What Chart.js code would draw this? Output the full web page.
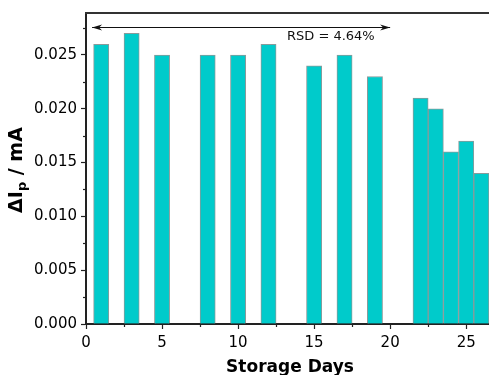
<!DOCTYPE html>
<html>
<head>
<meta charset="utf-8">
<script src="https://cdn.jsdelivr.net/npm/chart.js@4/dist/chart.umd.min.js"></script>
<style>
html,body{margin:0;padding:0;background:#fff;}
#wrap{width:489px;height:375px;position:relative;}
</style>
</head>
<body>
<div id="wrap"><canvas id="c" width="489" height="375"></canvas></div>
<script>
// ---- data ----
const storageDays = [1, 3, 5, 8, 10, 12, 15, 17, 19, 22, 23, 24, 25, 26];
const deltaIp = [0.026, 0.027, 0.025, 0.025, 0.025, 0.026, 0.024, 0.025, 0.023, 0.021, 0.020, 0.016, 0.017, 0.014];
const xTicks = [0, 5, 10, 15, 20, 25];
const yTicks = [0.000, 0.005, 0.010, 0.015, 0.020, 0.025];
const xTitle = 'Storage Days';
const yTitleParts = ['\u0394I', 'p', ' / mA'];
const rsdLabel = 'RSD = 4.64%';
const arrowFrom = 0.4;
const arrowTo = 20;
const arrowLevel = 0.0276;
const labelX = 16.1;
const labelY = 0.0267;

const FONT = '"DejaVu Sans", sans-serif';
const INK = '#222';

function minorTicks(ticks) {
  const out = [];
  for (let i = 0; i < ticks.length - 1; i++) out.push((ticks[i] + ticks[i + 1]) / 2);
  out.push(ticks[ticks.length - 1] + (ticks[1] - ticks[0]) / 2);
  return out;
}

const decor = {
  id: 'decor',
  beforeDraw(chart) {
    const ctx = chart.ctx;
    ctx.save();
    ctx.fillStyle = '#fff';
    ctx.fillRect(0, 0, chart.width, chart.height);
    ctx.restore();
  },
  afterDraw(chart) {
    const ctx = chart.ctx;
    const xs = chart.scales.x, ys = chart.scales.y;
    const a = chart.chartArea;
    ctx.save();
    // top frame line
    ctx.strokeStyle = '#333';
    ctx.lineWidth = 2;
    ctx.beginPath();
    ctx.moveTo(a.left - 1, a.top);
    ctx.lineTo(a.right, a.top);
    ctx.stroke();
    // minor ticks
    ctx.lineWidth = 1.2;
    ctx.strokeStyle = INK;
    minorTicks(xTicks).forEach(v => {
      const px = Math.round(xs.getPixelForValue(v)) + 0.5;
      if (px > a.right) return;
      ctx.beginPath(); ctx.moveTo(px, a.bottom); ctx.lineTo(px, a.bottom + 3); ctx.stroke();
    });
    minorTicks(yTicks).forEach(v => {
      const py = Math.round(ys.getPixelForValue(v)) + 0.5;
      if (py < a.top) return;
      ctx.beginPath(); ctx.moveTo(a.left, py); ctx.lineTo(a.left - 3, py); ctx.stroke();
    });
    // arrow
    const x1 = xs.getPixelForValue(arrowFrom), x2 = xs.getPixelForValue(arrowTo);
    const ay = Math.round(ys.getPixelForValue(arrowLevel)) + 0.5;
    ctx.strokeStyle = '#111';
    ctx.fillStyle = '#111';
    ctx.lineWidth = 1;
    ctx.beginPath(); ctx.moveTo(x1, ay); ctx.lineTo(x2, ay); ctx.stroke();
    function head(tip, dir) {
      ctx.beginPath();
      ctx.moveTo(tip, ay);
      ctx.lineTo(tip - dir * 10, ay - 3);
      ctx.lineTo(tip - dir * 7, ay);
      ctx.lineTo(tip - dir * 10, ay + 3);
      ctx.closePath();
      ctx.fill();
    }
    head(x1, -1);
    head(x2, 1);
    // RSD label
    ctx.font = '13px ' + FONT;
    ctx.fillStyle = '#111';
    ctx.textAlign = 'center';
    ctx.textBaseline = 'middle';
    ctx.fillText(rsdLabel, xs.getPixelForValue(labelX), ys.getPixelForValue(labelY));
    // x title
    ctx.font = 'bold 17px ' + FONT;
    ctx.fillStyle = '#000';
    ctx.textAlign = 'center';
    ctx.textBaseline = 'alphabetic';
    ctx.fillText(xTitle, 290, 372);
    // y title with subscript
    ctx.translate(22, 170);
    ctx.rotate(-Math.PI / 2);
    const big = 'bold 19px ' + FONT, small = 'bold 13px ' + FONT;
    ctx.font = big; const w0 = ctx.measureText(yTitleParts[0]).width;
    ctx.font = small; const w1 = ctx.measureText(yTitleParts[1]).width;
    ctx.font = big; const w2 = ctx.measureText(yTitleParts[2]).width;
    let sx = -(w0 + w1 + w2) / 2;
    ctx.textAlign = 'left';
    ctx.font = big; ctx.fillText(yTitleParts[0], sx, 0); sx += w0;
    ctx.font = small; ctx.fillText(yTitleParts[1], sx, 4); sx += w1;
    ctx.font = big; ctx.fillText(yTitleParts[2], sx, 0);
    ctx.restore();
  }
};

new Chart(document.getElementById('c'), {
  type: 'bar',
  data: {
    datasets: [{
      data: storageDays.map((d, i) => ({ x: d, y: deltaIp[i] })),
      backgroundColor: '#00CBCB',
      borderColor: '#8a9a9a',
      borderWidth: 1,
      barPercentage: 1,
      categoryPercentage: 1
    }]
  },
  options: {
    responsive: false,
    animation: false,
    devicePixelRatio: 1,
    layout: { padding: { top: 11, right: 0, left: 0, bottom: 0 } },
    plugins: { legend: { display: false }, tooltip: { enabled: false } },
    scales: {
      x: {
        type: 'linear',
        min: 0, max: 26.5,
        offset: false,
        afterFit(s) { s.height = 51; },
        afterBuildTicks(s) { s.ticks = xTicks.map(v => ({ value: v })); },
        grid: { offset: false, drawOnChartArea: false, drawTicks: true, tickLength: 5, color: INK, tickWidth: 1.2 },
        border: { display: true, color: INK, width: 2 },
        ticks: { color: '#000', font: { family: FONT, size: 15 }, padding: 5, maxRotation: 0,
                 callback: v => String(v) }
      },
      y: {
        type: 'linear',
        min: 0, max: 0.0289,
        afterFit(s) { s.width = 86; },
        afterBuildTicks(s) { s.ticks = yTicks.map(v => ({ value: v })); },
        grid: { drawOnChartArea: false, drawTicks: true, tickLength: 5, color: INK, tickWidth: 1.2 },
        border: { display: true, color: INK, width: 2 },
        ticks: { color: '#000', font: { family: FONT, size: 15 }, padding: 4,
                 callback: v => Number(v).toFixed(3) }
      }
    }
  },
  plugins: [decor]
});
</script>
</body>
</html>
